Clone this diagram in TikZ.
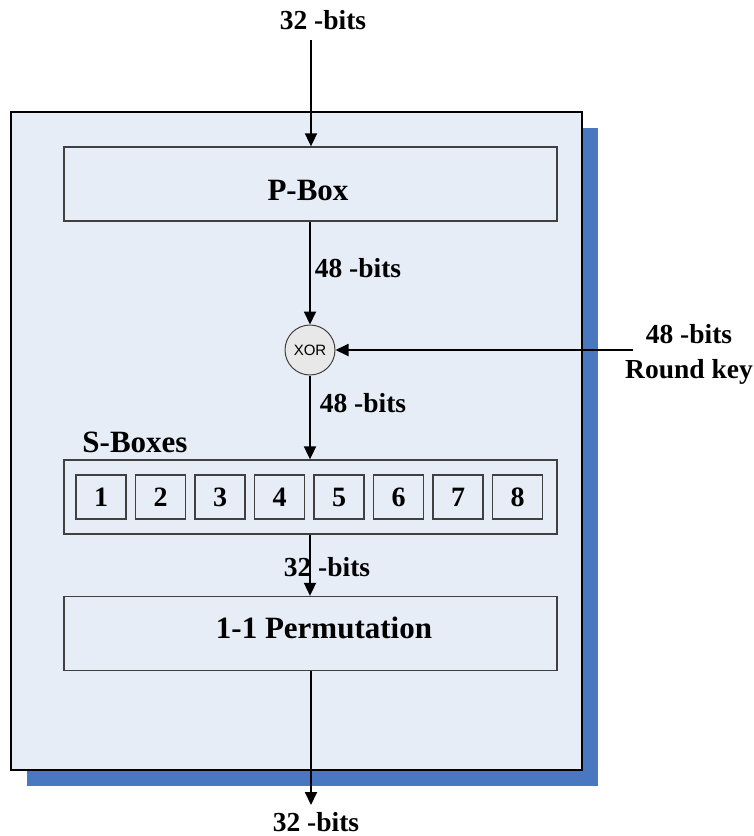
\documentclass[tikz,border=0pt]{standalone}
\usepackage{fontspec}
\setmainfont{Liberation Serif}
\newfontfamily\arialfont{Liberation Sans}
\usetikzlibrary{arrows.meta}
\definecolor{panelfill}{HTML}{E7EDF7}
\definecolor{shadowblue}{HTML}{4A78C0}
\definecolor{xorfill}{HTML}{E8E8E8}
\definecolor{boxline}{HTML}{404040}
\tikzset{
  x=1pt, y=-1pt,
  flow/.style={line width=1.8pt, -{Triangle[length=13pt,width=12pt]}},
  stagebox/.style={draw=boxline, line width=1.3pt, fill=panelfill, minimum width=493pt, minimum height=74pt, inner sep=0pt},
  boxtext/.style={font=\fontsize{31}{36}\selectfont\bfseries, inner sep=0pt},
  sbox/.style={draw=boxline, line width=1.2pt, fill=panelfill, minimum width=50pt, minimum height=44pt, inner sep=0pt,
    font=\fontsize{28}{32}\selectfont\bfseries},
  lbl/.style={font=\fontsize{27.5}{35}\selectfont\bfseries, inner sep=0pt, align=center},
  xorc/.style={circle, draw=boxline, line width=1pt, fill=xorfill, minimum size=50pt, inner sep=0pt,
    font=\arialfont\fontsize{15}{17}\selectfont}
}
\begin{document}
\begin{tikzpicture}
\useasboundingbox (0,0) rectangle (754,836);
% panel with its drop shadow
\fill[shadowblue] (27,128) rectangle (598,786);
\draw[line width=1.3pt, fill=panelfill] (11,112) rectangle (582,770);

% stages
\node[stagebox] (pbox) at (310.5,184) {};
\node[boxtext] (ptext) at (308,190) {P-Box};
\node[xorc] (xor) at (310,350) {XOR};
\node[stagebox] (sboxes) at (310.5,497) {};
\node[boxtext] (sname) at (135,442) {S-Boxes};
\foreach \i in {1,...,8}{
  \node[sbox] (s\i) at ({101+59.5*(\i-1)},497) {\i};
}
\node[stagebox] (perm) at (310.5,633.5) {};
\node[boxtext] (permtext) at (324,628) {1-1 Permutation};

% texts
\node[lbl] (tin) at (323,20) {32 -bits};
\node[lbl] (l1) at (358,268) {48 -bits};
\node[lbl] (l2) at (363,403) {48 -bits};
\node[lbl] (l3) at (327,567) {32 -bits};
\node[lbl] (tout) at (316,822) {32 -bits};
\node[lbl] (key) at (689,354) {48 -bits\\Round key};

% connectors
\coordinate (inTop) at (311,40);
\coordinate (keyIn) at (633,350);
\coordinate (outEnd) at (311,805);
\draw[flow] (inTop) -- (inTop |- pbox.north);
\draw[flow] (pbox.south -| xor.north) -- (xor.north);
\draw[flow] (keyIn) -- (xor.east);
\draw[flow] (xor.south) -- (xor.south |- sboxes.north);
\draw[flow] (sboxes.south -| xor.south) -- (xor.south |- perm.north);
\draw[flow] (perm.south -| outEnd) -- (outEnd);
\end{tikzpicture}
\end{document}
